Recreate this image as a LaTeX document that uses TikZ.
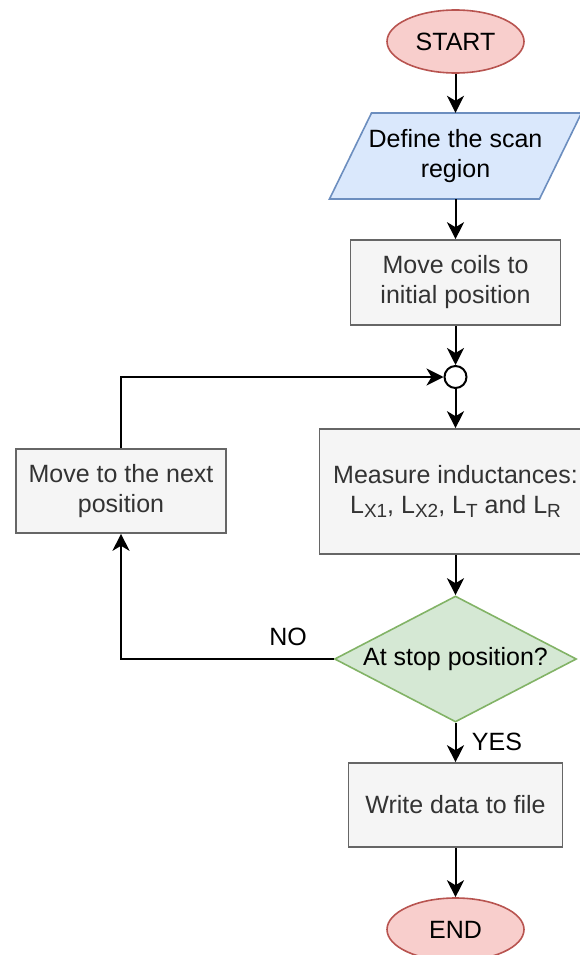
\documentclass[tikz,border=0pt]{standalone}
\usepackage{fontspec}
\setmainfont{Liberation Sans}
\usetikzlibrary{shapes.geometric,arrows.meta}
\definecolor{redfill}{HTML}{F8CECC}
\definecolor{redline}{HTML}{B85450}
\definecolor{bluefill}{HTML}{DAE8FC}
\definecolor{blueline}{HTML}{6C8EBF}
\definecolor{grayfill}{HTML}{F5F5F5}
\definecolor{grayline}{HTML}{666666}
\definecolor{graytext}{HTML}{333333}
\definecolor{greenfill}{HTML}{D5E8D4}
\definecolor{greenline}{HTML}{82B366}
\newcommand{\subtxt}[1]{\raisebox{-4pt}{\fontsize{19}{19}\selectfont #1}}
\begin{document}
\begin{tikzpicture}[x=1pt,y=-1pt,
  every node/.style={font=\fontsize{25}{30}\selectfont, align=center, inner sep=0pt},
  terminal/.style={ellipse, draw=redline, fill=redfill, line width=1.6pt, minimum width=137pt, minimum height=63pt},
  procbox/.style={rectangle, draw=grayline, fill=grayfill, text=graytext, line width=1.6pt},
  decision/.style={diamond, draw=greenline, fill=greenfill, line width=1.6pt, shape aspect=1.92, minimum width=242pt, minimum height=126pt},
  conn/.style={line width=2pt, -{Stealth[length=17pt,width=17pt,inset=5pt]}},
  plainline/.style={line width=2pt}
]
\useasboundingbox (0,0) rectangle (580,955);
\clip (0,0) rectangle (580,955);

\node[terminal] (start) at (455.5,41.5) {START};

% parallelogram
\draw[draw=blueline, fill=bluefill, line width=1.6pt]
  (371.5,113) -- (581.5,113) -- (539.5,199) -- (329.5,199) -- cycle;
\node[minimum width=210pt, minimum height=86pt] (define) at (455.5,156) {Define the scan\\region};

\node[procbox, minimum width=210pt, minimum height=85pt] (coils) at (455.5,282.5) {Move coils to\\initial position};

\node[circle, draw=black, fill=white, line width=2pt, minimum size=22pt] (junc) at (455.5,377) {};

\node[procbox, minimum width=272pt, minimum height=125pt] (meas) at (455.5,491.5)
  {Measure inductances:\\L\subtxt{X1}, L\subtxt{X2}, L\subtxt{T} and L\subtxt{R}};

\node[procbox, minimum width=210pt, minimum height=84pt] (next) at (121,491) {Move to the next\\position};

\node[decision] (dec) at (455.5,659) {At stop position?};

\node[procbox, minimum width=214pt, minimum height=84pt] (write) at (455.5,805) {Write data to file};

\node[terminal] (end) at (455.5,929.5) {END};

\draw[conn] (start) -- (define);
\draw[conn] (define) -- (coils);
\draw[conn] (coils) -- (junc);
\draw[conn] (junc) -- (meas);
\draw[conn] (meas) -- (dec);
\draw[conn] (dec) -- (write);
\node (yes) at (497,742) {YES};
\draw[conn] (write) -- (end);
\draw[conn] (dec.west) -| (next.south);
\node (no) at (288,637) {NO};
\draw[conn] (next.north) |- (junc.west);
\end{tikzpicture}
\end{document}
